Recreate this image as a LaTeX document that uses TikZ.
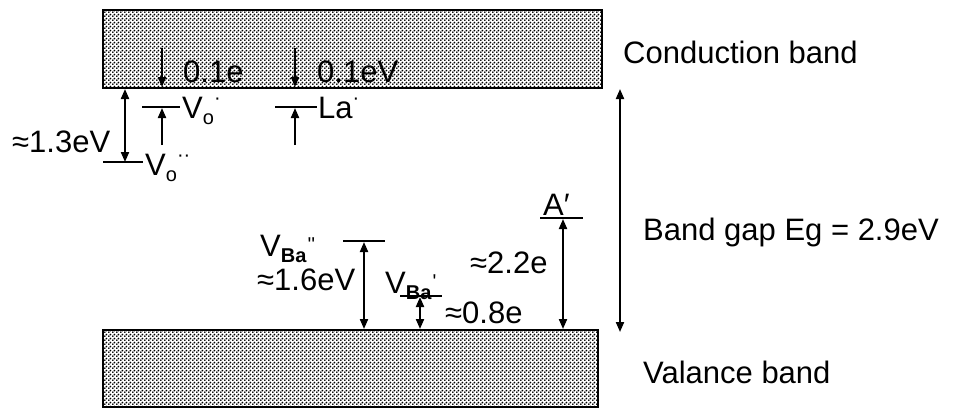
\documentclass[tikz,border=0pt]{standalone}
\usepackage{fontspec}
\setmainfont{Liberation Sans}
\usetikzlibrary{arrows.meta,patterns.meta}
\pgfdeclarepattern{
  name=banddots, type=uncolored,
  bottom left={\pgfpoint{0pt}{0pt}}, top right={\pgfpoint{4pt}{4pt}},
  tile size={\pgfpoint{4pt}{4pt}},
  code={\pgfpathcircle{\pgfpoint{1pt}{1pt}}{1.2pt}\pgfpathcircle{\pgfpoint{3pt}{3pt}}{1.2pt}\pgfusepath{fill}}}
\newcommand\smallf{\fontsize{20}{20}\selectfont}
% base, subscript, superscript, raise of superscript
\newcommand\ionlbl[4]{#1\raisebox{-0.2em}{\smallf #2}\raisebox{#4}{\smallf #3}}
\tikzset{
  band/.style={draw=black, line width=2.5pt, fill=white, postaction={pattern=banddots, pattern color=black}},
  lvl/.style={line width=2pt},
  arr/.style={line width=2pt, -{Triangle[length=10pt,width=8pt]}},
  darr/.style={line width=2pt, {Triangle[length=10pt,width=8pt]}-{Triangle[length=10pt,width=8pt]}},
  lbl/.style={anchor=base west, inner sep=0pt, font=\fontsize{31}{31}\selectfont}
}
\begin{document}
\begin{tikzpicture}[x=1pt,y=-1pt]
\useasboundingbox (0,0) rectangle (957,408);
% bands
\draw[band] (103,10) rectangle (602,88);
\draw[band] (103,330) rectangle (598,407);
% coordinates
\coordinate (cbot1) at (162,87);  \coordinate (cin1) at (162,48);
\coordinate (cbot2) at (295,87);  \coordinate (cin2) at (295,48);
\coordinate (vo1a) at (142,107);  \coordinate (vo1b) at (180,107);
\coordinate (la1a) at (275,107);  \coordinate (la1b) at (317,107);
\coordinate (vo1t) at (162,108);  \coordinate (vo1s) at (162,145);
\coordinate (la1t) at (295,108);  \coordinate (la1s) at (295,145);
\coordinate (vo2a) at (103,162);  \coordinate (vo2b) at (143,162);
\coordinate (g13t) at (125,89);   \coordinate (g13b) at (125,162);
\coordinate (ba2a) at (343,241);  \coordinate (ba2b) at (385,241);
\coordinate (ba2t) at (364,242);  \coordinate (ba2v) at (364,329);
\coordinate (ba1a) at (400,296);  \coordinate (ba1b) at (442,296);
\coordinate (ba1t) at (420,297);  \coordinate (ba1v) at (420,329);
\coordinate (aa) at (540,218);    \coordinate (ab) at (583,218);
\coordinate (at) at (563,219);    \coordinate (av) at (563,329);
\coordinate (egt) at (620,89);    \coordinate (egb) at (620,332);
% level lines
\draw[lvl] (vo1a) -- (vo1b);
\draw[lvl] (la1a) -- (la1b);
\draw[lvl] (vo2a) -- (vo2b);
\draw[lvl] (ba2a) -- (ba2b);
\draw[lvl] (ba1a) -- (ba1b);
\draw[lvl] (aa) -- (ab);
% arrows
\draw[arr] (cin1) -- (cbot1);
\draw[arr] (cin2) -- (cbot2);
\draw[arr] (vo1s) -- (vo1t);
\draw[arr] (la1s) -- (la1t);
\draw[darr] (g13t) -- (g13b);
\draw[darr] (ba2t) -- (ba2v);
\draw[darr] (ba1t) -- (ba1v);
\draw[darr] (at) -- (av);
\draw[darr] (egt) -- (egb);
% labels
\node[lbl] (tcb) at (623,63) {Conduction band};
\node[lbl] (teg) at (643,240) {Band gap Eg = 2.9eV};
\node[lbl] (tvb) at (643,383) {Valance band};
\node[lbl] (t01a) at (183,82) {0.1e};
\node[lbl] (t01b) at (317,82) {0.1eV};
\node[lbl] (tvo1) at (182,118) {\ionlbl{V}{o}{·}{0.42em}};
\node[lbl] (tla) at (318,118) {La\raisebox{0.42em}{\smallf ·}};
\node[lbl] (t13) at (12,152) {≈1.3eV};
\node[lbl] (tvo2) at (145,175) {\ionlbl{V}{o}{··}{0.42em}};
\node[lbl] (tba2) at (260,256) {\ionlbl{V}{\textbf{Ba}}{\kern1pt\textquotesingle\textquotesingle}{0.15em}};
\node[lbl] (t16) at (257,290) {≈1.6eV};
\node[lbl] (tba1) at (385,293) {\ionlbl{V}{\textbf{Ba}}{\kern1pt\textquotesingle}{0.15em}};
\node[lbl] (t08) at (445,323) {≈0.8e};
\node[lbl] (t22) at (470,273) {≈2.2e};
\node[lbl] (ta) at (543,215) {A′};
\end{tikzpicture}
\end{document}
